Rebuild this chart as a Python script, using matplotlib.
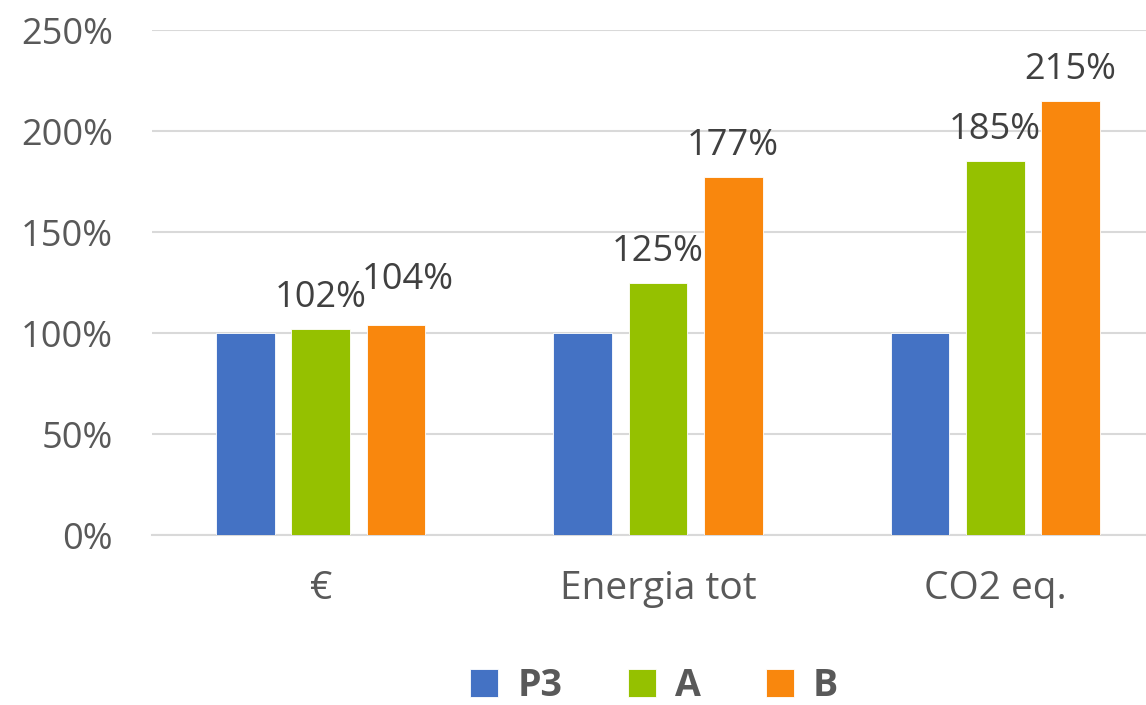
import matplotlib.pyplot as plt
import numpy as np

categories = ['€', 'Energia tot', 'CO2 eq.']
series_names = ['P3', 'A', 'B']
p3_vals = [100, 100, 100]
a_vals = [102, 125, 185]
b_vals = [104, 177, 215]
y_ticks = [0, 50, 100, 150, 200, 250]

colors = ['#4472C4', '#95C100', '#F9870D']
txt_grey = '#595959'
lbl_grey = '#404040'

plt.rcParams['font.family'] = ['Open Sans', 'DejaVu Sans']

fig = plt.figure(figsize=(11.46, 7.05), dpi=100)
ax = fig.add_axes([0.1326, 0.2411, 0.8674, 0.7163])

x = np.arange(len(categories))
step = 0.2226
width = 0.175
all_vals = [p3_vals, a_vals, b_vals]
bars = []
for i, (vals, name, col) in enumerate(zip(all_vals, series_names, colors)):
    b = ax.bar(x + (i - 1) * step, vals, width, color=col, label=name,
               edgecolor='white', linewidth=0.6, zorder=3)
    bars.append(b)

# data labels only for A and B; the first B label sits a bit higher/right
nudge = {(2, 0): (12, 36)}
for si in (1, 2):
    for ci, rect in enumerate(bars[si]):
        dx, dy = nudge.get((si, ci), (0, 22))
        ax.annotate(f'{all_vals[si][ci]}%',
                    (rect.get_x() + rect.get_width() / 2, rect.get_height()),
                    xytext=(dx, dy), textcoords='offset pixels',
                    ha='center', va='baseline', fontsize=26, color=lbl_grey)

ax.set_ylim(0, 250)
ax.set_xlim(-0.5015, 2.448)
ax.set_yticks(y_ticks)
ax.set_yticklabels([f'{v}%' for v in y_ticks])
ax.set_xticks(x)
ax.set_xticklabels(categories)
ax.tick_params(axis='y', length=0, pad=28, labelsize=26, labelcolor=txt_grey)
ax.tick_params(axis='x', length=0, pad=25, labelsize=28, labelcolor=txt_grey)
ax.grid(axis='y', color='#D9D9D9', linewidth=1.5, zorder=0)
for s in ['top', 'right', 'left']:
    ax.spines[s].set_visible(False)
ax.spines['bottom'].set_color('#D9D9D9')
ax.spines['bottom'].set_linewidth(1.5)

fig.legend(loc='center', bbox_to_anchor=(0.571, 0.027), ncol=3, frameon=False,
           handlelength=0.75, handleheight=0.75, handletextpad=0.5,
           columnspacing=1.75, prop={'weight': 'bold', 'size': 27},
           labelcolor=txt_grey)

fig.savefig('out.png', dpi=100)
